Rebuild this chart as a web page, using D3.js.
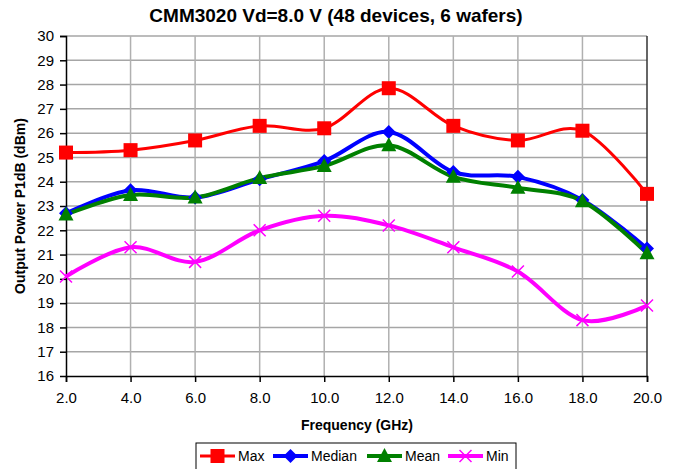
<!DOCTYPE html>
<html>
<head>
<meta charset="utf-8">
<script src="https://cdn.jsdelivr.net/npm/d3@7"></script>
<style>
  body { margin: 0; background: #fff; }
  text { font-family: "Liberation Sans", Arial, sans-serif; }
</style>
</head>
<body>
<script>
// chart values
var freqs = [2, 4, 6, 8, 10, 12, 14, 16, 18, 20];
var maxVals = [25.2, 25.3, 25.7, 26.3, 26.2, 27.85, 26.3, 25.7, 26.1, 23.5];
var medianVals = [22.7, 23.65, 23.35, 24.1, 24.85, 26.05, 24.4, 24.2, 23.25, 21.25];
var meanVals = [22.65, 23.45, 23.35, 24.15, 24.65, 25.5, 24.2, 23.75, 23.2, 21.05];
var minVals = [20.1, 21.3, 20.7, 22.0, 22.6, 22.2, 21.3, 20.3, 18.3, 18.9];
var yTicks = d3.range(16, 31, 1);

var WIDTH = 674, HEIGHT = 469;
var LEFT = 66, RIGHT = 647, TOP = 36, BOTTOM = 376;

var series = [
    {name: 'Max', values: maxVals, color: '#ff0000', width: 3, marker: 'square'},
    {name: 'Median', values: medianVals, color: '#0000ff', width: 4, marker: 'diamond'},
    {name: 'Mean', values: meanVals, color: '#008000', width: 4, marker: 'triangle'},
    {name: 'Min', values: minVals, color: '#ff00ff', width: 4, marker: 'cross'}
];

var svg = d3.select('body').append('svg')
    .attr('width', WIDTH)
    .attr('height', HEIGHT);

var x = d3.scaleLinear().domain([2, 20]).range([LEFT, RIGHT]);
var y = d3.scaleLinear().domain([16, 30]).range([BOTTOM, TOP]);

// gridlines
svg.append('g').selectAll('line').data(yTicks.slice(1)).enter()
    .append('line')
    .attr('x1', LEFT).attr('x2', RIGHT)
    .attr('y1', function(d){return y(d);}).attr('y2', function(d){return y(d);})
    .attr('stroke', '#a6a6a6').attr('stroke-width', 1.5);
svg.append('g').selectAll('line').data(freqs.slice(1, -1)).enter()
    .append('line')
    .attr('x1', function(d){return x(d);}).attr('x2', function(d){return x(d);})
    .attr('y1', TOP).attr('y2', BOTTOM)
    .attr('stroke', '#b0b0b0').attr('stroke-width', 1.5);

// right border
svg.append('line')
    .attr('x1', RIGHT).attr('x2', RIGHT).attr('y1', TOP).attr('y2', BOTTOM)
    .attr('stroke', '#333').attr('stroke-width', 1.5);

// axes
var yAxis = d3.axisLeft(y).tickValues(yTicks).tickSize(6).tickPadding(6).tickFormat(d3.format('d'));
var gy = svg.append('g').attr('transform', 'translate(' + LEFT + ',0)').call(yAxis);
var xAxis = d3.axisBottom(x).tickValues(freqs).tickSize(6).tickPadding(10).tickFormat(d3.format('.1f'));
var gx = svg.append('g').attr('transform', 'translate(0,' + BOTTOM + ')').call(xAxis);
[gx, gy].forEach(function(g){
    g.select('.domain').attr('stroke', '#000').attr('stroke-width', 1.5);
    g.selectAll('.tick line').attr('stroke', '#000').attr('stroke-width', 1.5);
    g.selectAll('.tick text').attr('font-size', 15).attr('fill', '#000')
        .style('font-family', '"Liberation Sans", Arial, sans-serif');
});
gy.select('.tick:first-of-type line').remove();

// series lines
var line = d3.line()
    .x(function(d, i){return x(freqs[i]);})
    .y(function(d){return y(d);})
    .curve(d3.curveCardinal.tension(0));

function drawMarker(g, type, color, cx, cy){
    if (type === 'square'){
        g.append('rect').attr('x', cx - 7).attr('y', cy - 7).attr('width', 14).attr('height', 14)
            .attr('fill', color);
    } else if (type === 'diamond'){
        g.append('path').attr('d', 'M' + cx + ',' + (cy - 7) + 'L' + (cx + 7) + ',' + cy +
            'L' + cx + ',' + (cy + 7) + 'L' + (cx - 7) + ',' + cy + 'Z').attr('fill', color);
    } else if (type === 'triangle'){
        g.append('path').attr('d', 'M' + cx + ',' + (cy - 8) + 'L' + (cx + 7.5) + ',' + (cy + 6) +
            'L' + (cx - 7.5) + ',' + (cy + 6) + 'Z').attr('fill', color);
    } else {
        g.append('path').attr('d', 'M' + (cx - 6) + ',' + (cy - 6) + 'L' + (cx + 6) + ',' + (cy + 6) +
            'M' + (cx + 6) + ',' + (cy - 6) + 'L' + (cx - 6) + ',' + (cy + 6))
            .attr('stroke', color).attr('stroke-width', 1.5).attr('fill', 'none');
    }
}

series.forEach(function(s){
    svg.append('path')
        .attr('d', line(s.values))
        .attr('fill', 'none')
        .attr('stroke', s.color)
        .attr('stroke-width', s.width);
});
series.forEach(function(s){
    var g = svg.append('g');
    s.values.forEach(function(v, i){
        drawMarker(g, s.marker, s.color, x(freqs[i]), y(v));
    });
});

// title and axis titles
svg.append('text')
    .attr('x', 336).attr('y', 22)
    .attr('text-anchor', 'middle')
    .attr('font-size', 19).attr('font-weight', 'bold')
    .text('CMM3020 Vd=8.0 V (48 devices, 6 wafers)');

svg.append('text')
    .attr('x', 357).attr('y', 430)
    .attr('text-anchor', 'middle')
    .attr('font-size', 14).attr('font-weight', 'bold')
    .text('Frequency (GHz)');

svg.append('text')
    .attr('transform', 'translate(25,' + ((TOP + BOTTOM) / 2) + ') rotate(-90)')
    .attr('text-anchor', 'middle')
    .attr('font-size', 14).attr('font-weight', 'bold')
    .text('Output Power P1dB (dBm)');

// legend
var legend = svg.append('g');
legend.append('rect')
    .attr('x', 196).attr('y', 443).attr('width', 320).attr('height', 30)
    .attr('fill', '#fff').attr('stroke', '#000').attr('stroke-width', 1);
var legendX = [200, 273, 367, 448];
series.forEach(function(s, i){
    var lx = legendX[i], ly = 456;
    legend.append('line')
        .attr('x1', lx).attr('x2', lx + 35).attr('y1', ly).attr('y2', ly)
        .attr('stroke', s.color).attr('stroke-width', s.width);
    drawMarker(legend, s.marker, s.color, lx + 17.5, ly);
    legend.append('text')
        .attr('x', lx + 38).attr('y', ly + 5)
        .attr('font-size', 14)
        .text(s.name);
});
</script>
</body>
</html>
